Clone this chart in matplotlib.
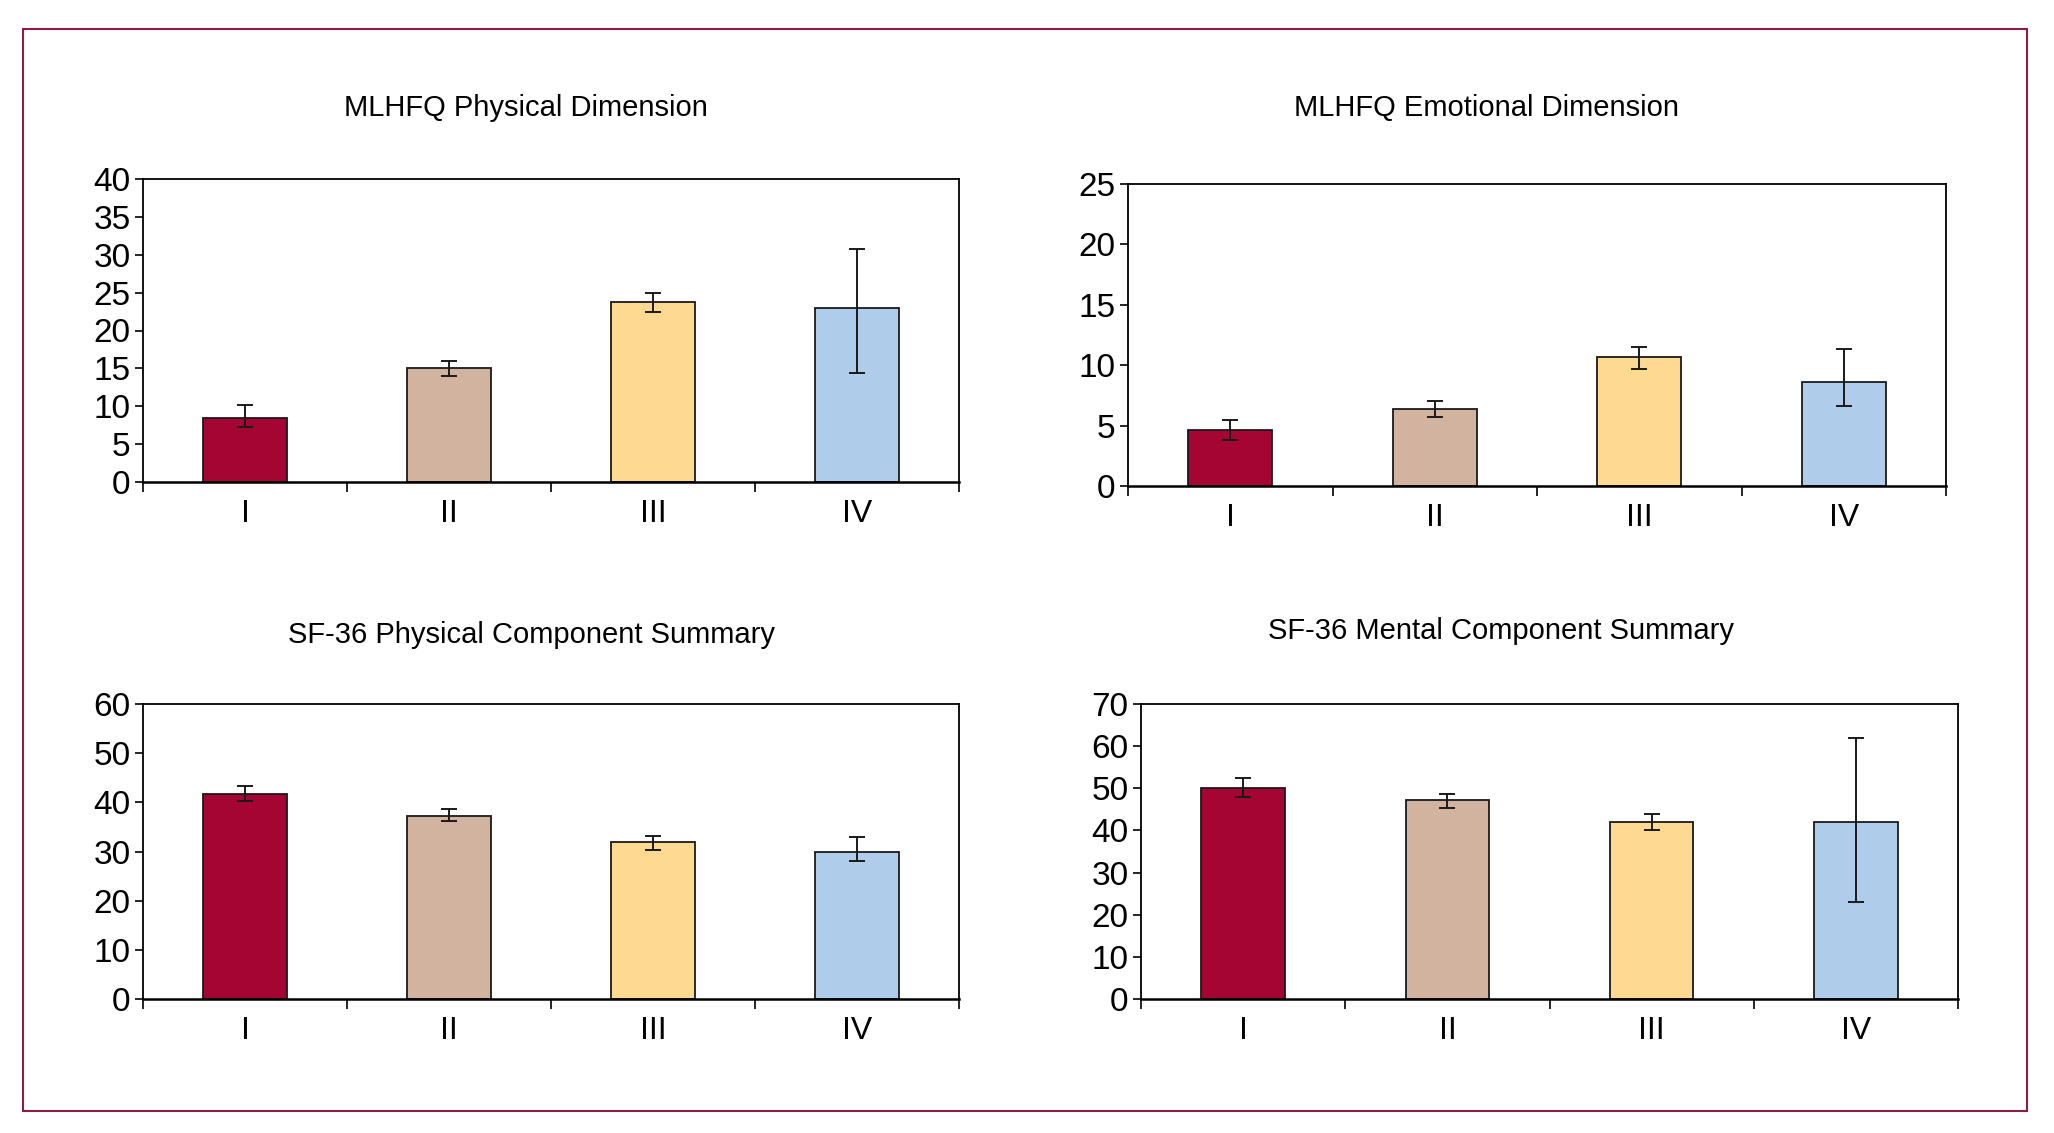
import numpy as np
import matplotlib
matplotlib.use("Agg")
import matplotlib.pyplot as plt
from matplotlib.patches import Rectangle

plt.rcParams['font.family'] = ['Liberation Sans Narrow', 'Liberation Sans', 'DejaVu Sans']

groups = ["I", "II", "III", "IV"]
colors = ["#a50532", "#d2b39f", "#fed992", "#afcdeb"]

# MLHFQ physical
phys_val = [8.5, 15.0, 23.7, 23.0]
phys_lo = [7.3, 14.0, 22.5, 14.4]
phys_hi = [10.2, 16.0, 25.0, 30.7]

# MLHFQ emotional
emo_val = [4.6, 6.4, 10.7, 8.6]
emo_lo = [3.8, 5.7, 9.7, 6.6]
emo_hi = [5.5, 7.0, 11.5, 11.3]

# SF-36 PCS
pcs_val = [41.7, 37.3, 32.0, 30.0]
pcs_lo = [40.2, 36.2, 30.3, 28.0]
pcs_hi = [43.4, 38.7, 33.2, 33.0]

# SF-36 MCS
mcs_val = [50.0, 47.2, 42.0, 42.0]
mcs_lo = [48.0, 45.3, 40.0, 23.0]
mcs_hi = [52.5, 48.7, 44.0, 62.0]

W, H = 2054, 1133
fig = plt.figure(figsize=(W / 100, H / 100), dpi=100)

panels = [
    ("MLHFQ Physical Dimension", phys_val, phys_lo, phys_hi, 40, 5,
     (143, 179, 959, 482), (526, 108)),
    ("MLHFQ Emotional Dimension", emo_val, emo_lo, emo_hi, 25, 5,
     (1128, 184, 1946, 486), (1487, 108)),
    ("SF-36 Physical Component Summary", pcs_val, pcs_lo, pcs_hi, 60, 10,
     (143, 704, 959, 999), (532, 635)),
    ("SF-36 Mental Component Summary", mcs_val, mcs_lo, mcs_hi, 70, 10,
     (1141, 704, 1958, 999), (1501, 631)),
]

for title, val, lo, hi, ymax, step, box, tpos in panels:
    x0, y0, x1, y1 = box
    ax = fig.add_axes([x0 / W, 1 - y1 / H, (x1 - x0) / W, (y1 - y0) / H])
    x = np.arange(len(groups))
    val = np.array(val)
    yerr = [val - np.array(lo), np.array(hi) - val]
    ax.bar(x, val, width=0.41, color=colors, edgecolor="#1a1a1a", linewidth=1.3, zorder=2)
    ax.errorbar(x, val, yerr=yerr, fmt="none", ecolor="#1a1a1a", elinewidth=1.4,
                capsize=6, capthick=1.4, zorder=3)
    ax.set_xlim(-0.5, 3.5)
    ax.set_ylim(0, ymax)
    ax.set_yticks(np.arange(0, ymax + 1, step))
    ax.set_xticks(np.arange(-0.5, 4, 1))
    ax.set_xticklabels([])
    ax.set_xticks(x, minor=True)
    ax.set_xticklabels(groups, minor=True)
    ax.tick_params(axis="x", which="major", direction="out", length=7, width=1.2)
    ax.tick_params(axis="x", which="minor", length=0, pad=12, labelsize=23)
    ax.tick_params(axis="y", direction="out", length=6, width=1.2, pad=3, labelsize=24)
    for s in ax.spines.values():
        s.set_linewidth(1.3)
    ax.spines["bottom"].set_linewidth(1.8)
    fig.text(tpos[0] / W, 1 - tpos[1] / H, title, ha="center", va="center", fontsize=21)

fig.add_artist(Rectangle((23 / W, 1 - 1111 / H), (2027 - 23) / W, (1111 - 29) / H,
                         transform=fig.transFigure, fill=False, edgecolor="#8e1c48", linewidth=1.5))

fig.savefig("out.png", dpi=100)
